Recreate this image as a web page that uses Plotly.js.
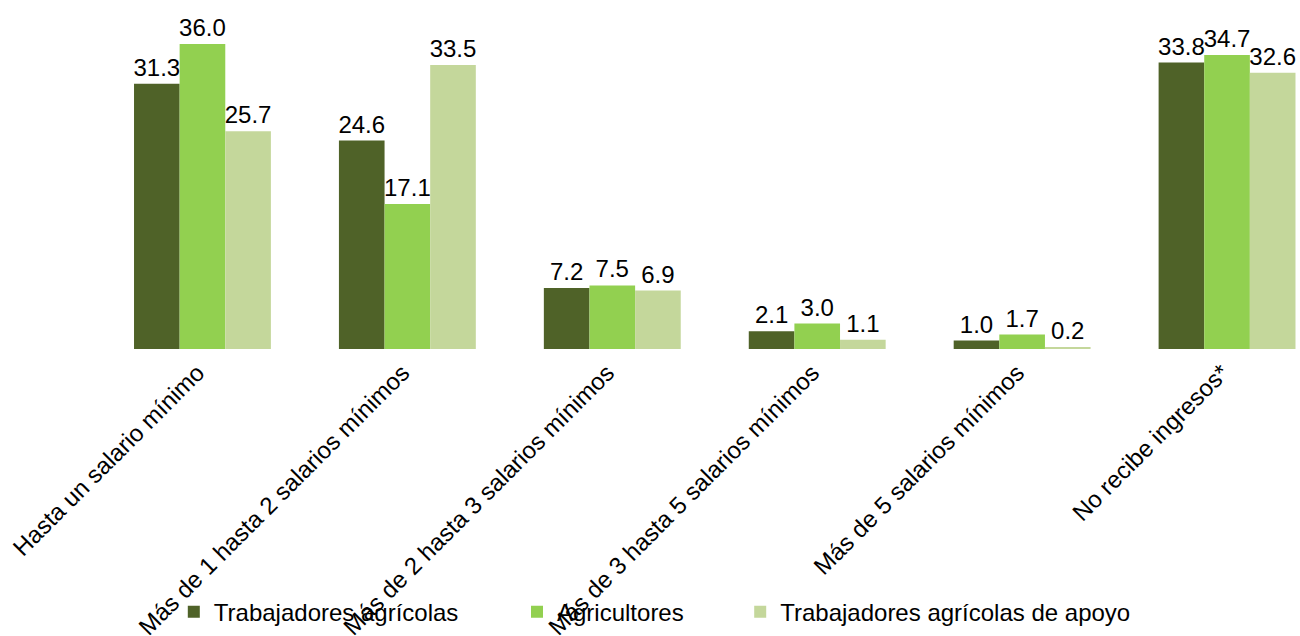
<!DOCTYPE html>
<html>
<head>
<meta charset="utf-8">
<script src="https://cdn.plot.ly/plotly-3.0.1.min.js"></script>
<style>html,body{margin:0;padding:0;background:#fff;}#chart{width:1300px;height:636px;}</style>
</head>
<body>
<div id="chart"></div>
<script>
const categories = [
  "Hasta un salario mínimo",
  "Más de 1 hasta 2 salarios mínimos",
  "Más de 2 hasta 3 salarios mínimos",
  "Más de 3 hasta 5 salarios mínimos",
  "Más de 5 salarios mínimos",
  "No recibe ingresos*"
];
const seriesNames = ["Trabajadores agrícolas", "Agricultores", "Trabajadores agrícolas de apoyo"];
const trabajadores = [31.3, 24.6, 7.2, 2.1, 1.0, 33.8];
const agricultores = [36.0, 17.1, 7.5, 3.0, 1.7, 34.7];
const apoyo = [25.7, 33.5, 6.9, 1.1, 0.2, 32.6];
const colors = ["#4F6228", "#92D050", "#C4D79B"];

const FONT = "Liberation Sans, Arial, sans-serif";
const allVals = [trabajadores, agricultores, apoyo];
const legendIds = ["legend", "legend2", "legend3"];
const data = allVals.map((vals, i) => ({
  type: "bar",
  name: seriesNames[i],
  x: categories,
  y: vals,
  marker: {color: colors[i]},
  text: vals.map(v => v.toFixed(1)),
  textposition: "outside",
  textfont: {family: FONT, size: 24, color: "#000"},
  constraintext: "none",
  cliponaxis: false,
  legend: legendIds[i],
  hoverinfo: "x+y+name"
}));

const legendBase = {
  orientation: "h",
  yanchor: "middle",
  y: -0.776,
  xanchor: "left",
  font: {family: FONT, size: 24, color: "#000"},
  bgcolor: "rgba(0,0,0,0)",
  borderwidth: 0
};

const layout = {
  width: 1300,
  height: 636,
  margin: {l: 99.5, r: 0, t: 10, b: 287},
  paper_bgcolor: "#fff",
  plot_bgcolor: "#fff",
  barmode: "group",
  bargap: 0.332,
  bargroupgap: 0,
  showlegend: true,
  legend: Object.assign({}, legendBase, {x: 0.0615}),
  legend2: Object.assign({}, legendBase, {x: 0.3475}),
  legend3: Object.assign({}, legendBase, {x: 0.5335}),
  xaxis: {
    type: "category",
    range: [-0.5, 5.356],
    tickangle: -45,
    tickfont: {family: FONT, size: 24, color: "#000"},
    ticklabelstandoff: 4,
    ticklabelshift: -5,
    showline: false,
    showgrid: false,
    zeroline: false,
    ticks: "",
    automargin: false
  },
  yaxis: {
    range: [0, 40],
    showticklabels: false,
    showgrid: false,
    zeroline: false,
    showline: false,
    ticks: ""
  },
  font: {family: FONT}
};

Plotly.newPlot("chart", data, layout, {displayModeBar: false, responsive: false});
</script>
</body>
</html>
